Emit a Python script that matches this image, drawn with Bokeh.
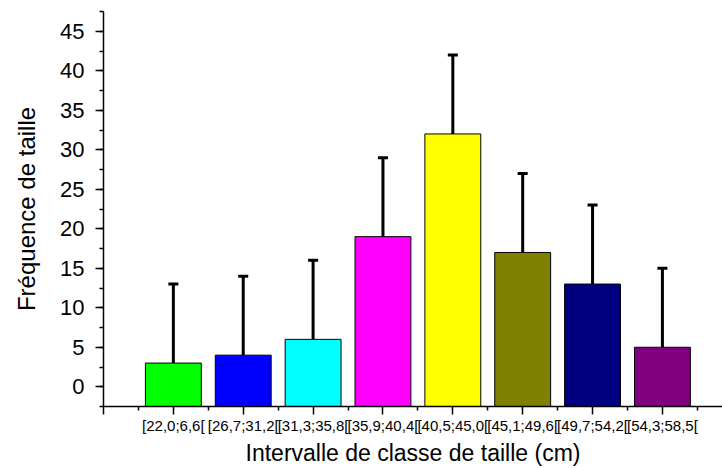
from bokeh.plotting import figure
from bokeh.models import (ColumnDataSource, Range1d, FixedTicker, SingleIntervalTicker,
                          Whisker, TeeHead)
from bokeh.embed import file_html
from bokeh.resources import INLINE

# Size classes (cm), frequencies and their error bars
classes = ["[22,0;6,6[", "[26,7;31,2[", "[31,3;35,8[", "[35,9;40,4[",
           "[40,5;45,0[", "[45,1;49,6[", "[49,7;54,2[", "[54,3;58,5["]
counts = [3, 4, 6, 19, 32, 17, 13, 5]
errors = [10, 10, 10, 10, 10, 10, 10, 10]
colors = ["#00FF00", "#0000FF", "#00FFFF", "#FF00FF",
          "#FFFF00", "#808000", "#000080", "#800080"]

Y_START, Y_END = -2.5, 47.5
X_START, X_END = 0, 8.86

positions = list(range(1, len(classes) + 1))
source = ColumnDataSource(dict(
    x=positions,
    counts=counts,
    upper=[c + e for c, e in zip(counts, errors)],
    color=colors,
))

FONT = "Liberation Sans"

p = figure(width=722, height=468, output_backend="svg", toolbar_location=None,
           x_range=Range1d(X_START, X_END), y_range=Range1d(Y_START, Y_END),
           min_border_left=103, min_border_right=0, min_border_top=11,
           min_border_bottom=62)
p.outline_line_color = None
p.grid.visible = False
p.background_fill_color = "white"
p.border_fill_color = "white"

# bars rise from the bottom of the frame
p.vbar(x="x", top="counts", bottom=Y_START, width=0.8, source=source,
       fill_color="color", line_color="black", line_width=1)

whisker = Whisker(base="x", lower="counts", upper="upper", source=source,
                  dimension="height", line_color="black", line_width=3,
                  lower_head=None,
                  upper_head=TeeHead(size=10, line_width=3, line_color="black"))
p.add_layout(whisker)

# x axis: one major tick per class, minor ticks between classes
p.xaxis.ticker = FixedTicker(ticks=list(range(0, len(classes) + 1)),
                             minor_ticks=[i + 0.5 for i in range(len(classes) + 1)])
p.xaxis.major_label_overrides = {0: ""} | {i: lab for i, lab in zip(positions, classes)}
p.xaxis.axis_label = "Intervalle de classe de taille (cm)"

p.yaxis.ticker = SingleIntervalTicker(interval=5, num_minor_ticks=2)
p.yaxis.axis_label = "Fréquence de taille"

for ax in (p.xaxis, p.yaxis):
    ax.axis_line_width = 1.5
    ax.axis_line_color = "black"
    ax.major_tick_line_color = "black"
    ax.minor_tick_line_color = "black"
    ax.major_tick_line_width = 1.5
    ax.minor_tick_line_width = 1.5
    ax.major_tick_in = 0
    ax.major_tick_out = 8
    ax.minor_tick_in = 0
    ax.minor_tick_out = 4
    ax.major_label_text_font = FONT
    ax.axis_label_text_font = FONT
    ax.axis_label_text_font_style = "normal"
    ax.major_label_text_color = "black"
    ax.axis_label_text_color = "black"

p.xaxis.major_label_text_font_size = "15px"
p.xaxis.major_label_standoff = 2
p.xaxis.axis_label_text_font_size = "23px"
p.xaxis.axis_label_standoff = 3

p.yaxis.major_label_text_font_size = "22px"
p.yaxis.major_label_standoff = 11
p.yaxis.axis_label_text_font_size = "24px"
p.yaxis.axis_label_standoff = 17

open("out.html", "w").write(file_html(p, INLINE))
